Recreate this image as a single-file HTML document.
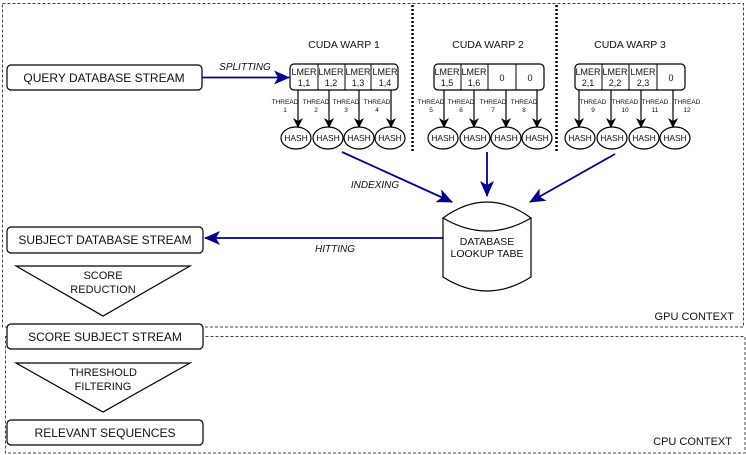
<!DOCTYPE html>
<html><head><meta charset="utf-8"><style>
html,body{margin:0;padding:0;background:#fff;}
svg{display:block;font-family:"Liberation Sans",Arial,sans-serif;}
</style></head><body>
<svg width="746" height="455" viewBox="0 0 746 455" xmlns="http://www.w3.org/2000/svg">
<defs>
<marker id="ab" markerWidth="10" markerHeight="10" refX="9" refY="5" orient="auto" markerUnits="userSpaceOnUse"><path d="M0,0 L10,5 L0,10 L3,5 z" fill="#000"/></marker>
<marker id="au" markerWidth="16" markerHeight="14" refX="15" refY="7" orient="auto" markerUnits="userSpaceOnUse"><path d="M0,0 L16,7 L0,14 L4,7 z" fill="#00008b"/></marker>
</defs>
<g fill="none" stroke="#444" stroke-width="1" stroke-dasharray="3,2">
<rect x="2.5" y="3.5" width="741" height="323.5"/>
<rect x="5.5" y="336.5" width="739.5" height="116.5"/>
</g>
<g stroke="#000" stroke-width="2.5" stroke-dasharray="2,2">
<line x1="412.5" y1="5" x2="412.5" y2="152"/>
<line x1="556.5" y1="5" x2="556.5" y2="152"/>
</g>
<g font-size="11" text-anchor="end" fill="#111">
<text x="734" y="320">GPU CONTEXT</text>
<text x="732" y="445">CPU CONTEXT</text>
</g>
<g fill="#fff" stroke="#000" stroke-width="1.2">
<rect x="7" y="65" width="195" height="25" rx="4"/>
<rect x="7" y="227" width="196" height="26" rx="4"/>
<rect x="7" y="324" width="196" height="25" rx="4"/>
<rect x="7" y="420" width="196" height="25" rx="4"/>
<path d="M16,266 L190,266 L103,316 z"/>
<path d="M16,363 L190,363 L103,412 z"/>
</g>
<g font-size="12" text-anchor="middle" fill="#111">
<text x="104" y="82">QUERY DATABASE STREAM</text>
<text x="105" y="244">SUBJECT DATABASE STREAM</text>
<text x="105" y="341">SCORE SUBJECT STREAM</text>
<text x="105" y="437">RELEVANT SEQUENCES</text>
<text x="103" y="279" font-size="11">SCORE</text>
<text x="103" y="293" font-size="11">REDUCTION</text>
<text x="103" y="376" font-size="11">THRESHOLD</text>
<text x="103" y="390" font-size="11">FILTERING</text>
</g>
<g font-size="10.5" text-anchor="middle" fill="#111">
<text x="344" y="48">CUDA WARP 1</text>
<text x="488" y="48">CUDA WARP 2</text>
<text x="630" y="48">CUDA WARP 3</text>
</g>
<g fill="#fff" stroke="#000" stroke-width="1.2">
<rect x="290" y="64" width="108" height="26" rx="4"/>
<rect x="434" y="64" width="110" height="26" rx="4"/>
<rect x="575" y="64" width="110" height="26" rx="4"/>
</g>
<g stroke="#000" stroke-width="1">
<line x1="318" y1="64" x2="318" y2="90"/><line x1="345" y1="64" x2="345" y2="90"/><line x1="371" y1="64" x2="371" y2="90"/>
<line x1="461" y1="64" x2="461" y2="90"/><line x1="488" y1="64" x2="488" y2="90"/><line x1="516" y1="64" x2="516" y2="90"/>
<line x1="602" y1="64" x2="602" y2="90"/><line x1="629" y1="64" x2="629" y2="90"/><line x1="657" y1="64" x2="657" y2="90"/>
</g>
<g font-size="9" text-anchor="middle" fill="#111">
<text x="304" y="75">LMER</text><text x="304" y="86">1,1</text>
<text x="331" y="75">LMER</text><text x="331" y="86">1,2</text>
<text x="358" y="75">LMER</text><text x="358" y="86">1,3</text>
<text x="385" y="75">LMER</text><text x="385" y="86">1,4</text>
<text x="447" y="75">LMER</text><text x="447" y="86">1,5</text>
<text x="474" y="75">LMER</text><text x="474" y="86">1,6</text>
<text x="502" y="81">0</text><text x="530" y="81">0</text>
<text x="588" y="75">LMER</text><text x="588" y="86">2,1</text>
<text x="615" y="75">LMER</text><text x="615" y="86">2,2</text>
<text x="643" y="75">LMER</text><text x="643" y="86">2,3</text>
<text x="671" y="81">0</text>
</g>
<g stroke="#000" stroke-width="1.2" marker-end="url(#ab)">
<line x1="298" y1="90" x2="298" y2="127"/><line x1="329" y1="90" x2="329" y2="127"/><line x1="359" y1="90" x2="359" y2="127"/><line x1="391" y1="90" x2="391" y2="127"/>
<line x1="444" y1="90" x2="444" y2="127"/><line x1="474" y1="90" x2="474" y2="127"/><line x1="506" y1="90" x2="506" y2="127"/><line x1="537" y1="90" x2="537" y2="127"/>
<line x1="579" y1="90" x2="579" y2="127"/><line x1="611" y1="90" x2="611" y2="127"/><line x1="641" y1="90" x2="641" y2="127"/><line x1="673" y1="90" x2="673" y2="127"/>
</g>
<g font-size="6.5" text-anchor="middle" fill="#111">
<text x="285" y="104">THREAD</text><text x="285" y="112">1</text>
<text x="316" y="104">THREAD</text><text x="316" y="112">2</text>
<text x="346" y="104">THREAD</text><text x="346" y="112">3</text>
<text x="377" y="104">THREAD</text><text x="377" y="112">4</text>
<text x="431" y="104">THREAD</text><text x="431" y="112">5</text>
<text x="461" y="104">THREAD</text><text x="461" y="112">6</text>
<text x="493" y="104">THREAD</text><text x="493" y="112">7</text>
<text x="524" y="104">THREAD</text><text x="524" y="112">8</text>
<text x="593" y="104">THREAD</text><text x="593" y="112">9</text>
<text x="625" y="104">THREAD</text><text x="625" y="112">10</text>
<text x="655" y="104">THREAD</text><text x="655" y="112">11</text>
<text x="687" y="104">THREAD</text><text x="687" y="112">12</text>
</g>
<g fill="#fff" stroke="#000" stroke-width="1.2">
<ellipse cx="296" cy="138" rx="15" ry="11"/><ellipse cx="328" cy="138" rx="15" ry="11"/><ellipse cx="359" cy="138" rx="15" ry="11"/><ellipse cx="390" cy="138" rx="15" ry="11"/>
<ellipse cx="443" cy="138" rx="15" ry="11"/><ellipse cx="475" cy="138" rx="15" ry="11"/><ellipse cx="506" cy="138" rx="15" ry="11"/><ellipse cx="537" cy="138" rx="15" ry="11"/>
<ellipse cx="580" cy="138" rx="15" ry="11"/><ellipse cx="612" cy="138" rx="15" ry="11"/><ellipse cx="644" cy="138" rx="15" ry="11"/><ellipse cx="675" cy="138" rx="15" ry="11"/>
</g>
<g font-size="8.5" text-anchor="middle" fill="#111">
<text x="296" y="141">HASH</text><text x="328" y="141">HASH</text><text x="359" y="141">HASH</text><text x="390" y="141">HASH</text>
<text x="443" y="141">HASH</text><text x="475" y="141">HASH</text><text x="506" y="141">HASH</text><text x="537" y="141">HASH</text>
<text x="580" y="141">HASH</text><text x="612" y="141">HASH</text><text x="644" y="141">HASH</text><text x="675" y="141">HASH</text>
</g>
<g stroke="#00008b" stroke-width="1.8" fill="none" marker-end="url(#au)">
<line x1="202" y1="77.5" x2="289" y2="77.5"/>
<line x1="342" y1="152" x2="452" y2="202"/>
<line x1="487" y1="152" x2="487" y2="196"/>
<line x1="615" y1="154" x2="530" y2="202"/>
<line x1="443" y1="238" x2="205" y2="238"/>
</g>
<g font-size="10" font-style="italic" text-anchor="middle" fill="#111">
<text x="245" y="70">SPLITTING</text>
<text x="375" y="188">INDEXING</text>
<text x="335" y="252">HITTING</text>
</g>
<g fill="#fff" stroke="#000" stroke-width="1.2">
<path d="M443,218 L443,277 Q487,305 531,277 L531,218"/>
<path d="M443,218 Q487,186 531,218 Q487,244 443,218 z"/>
</g>
<g font-size="10.5" text-anchor="middle" fill="#111">
<text x="487" y="245">DATABASE</text>
<text x="487" y="257">LOOKUP TABE</text>
</g>
</svg>
</body></html>
